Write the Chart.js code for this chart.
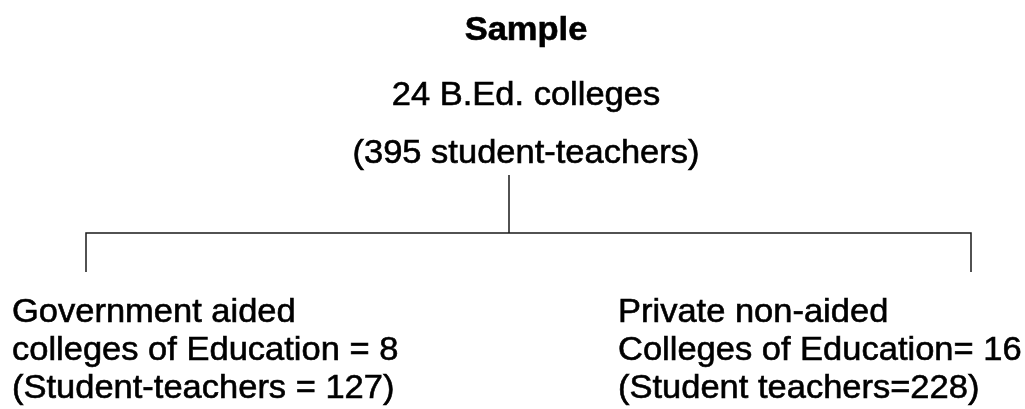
<!DOCTYPE html>
<html>
<head>
<meta charset="utf-8">
<script src="https://cdn.jsdelivr.net/npm/chart.js@4"></script>
<style>
  body { margin: 0; background: #fff; }
  #wrap { width: 1025px; height: 409px; }
</style>
</head>
<body>
<div id="wrap"><canvas id="myChart" width="1025" height="409"></canvas></div>
<script>
"use strict";
// sample data
const sampleTitle = "Sample";
const totalColleges = 24;
const totalStudents = 395;
const groupNames = ["Government aided", "Private non-aided"];
const groupColleges = [8, 16];
const groupStudents = [127, 228];
const collegeText = ["colleges of Education = ", "Colleges of Education= "];
const studentText = ["(Student-teachers = ", "(Student teachers="];

// layout of the tree (in axis units, 1 unit = 1px)
const rootX = 509;
const branchX = [86, 971];
const textX = [12, 618];
const levelY = { title: 40, line1: 105, line2: 163, trunkTop: 175, bar: 233, dropEnd: 272 };
const groupLineY = [322, 360, 398];
const stretchX = 1.045; // the scanned text is a bit wider than the font

// build the labels from the data
const Labels = [];
Labels.push({ text: sampleTitle, x: 526, y: levelY.title, bold: true, align: "center" });
Labels.push({ text: totalColleges + " B.Ed. colleges", x: 526, y: levelY.line1, bold: false, align: "center" });
Labels.push({ text: "(" + totalStudents + " student-teachers)", x: 526, y: levelY.line2, bold: false, align: "center" });
for (let i = 0; i < groupNames.length; i++) {
    let lines = [groupNames[i], collegeText[i] + groupColleges[i], studentText[i] + groupStudents[i] + ")"];
    for (let k = 0; k < lines.length; k++) {
        Labels.push({ text: lines[k], x: textX[i], y: groupLineY[k], bold: false, align: "left" });
    }
}

// connector lines
const trunk = [{ x: rootX, y: levelY.trunkTop }, { x: rootX, y: levelY.bar }];
const bar = [
    { x: branchX[0], y: levelY.dropEnd },
    { x: branchX[0], y: levelY.bar },
    { x: branchX[1], y: levelY.bar },
    { x: branchX[1], y: levelY.dropEnd }
];

const textPlugin = {
    id: "treeText",
    afterDraw(chart) {
        const ctx = chart.ctx;
        const xs = chart.scales.x;
        const ys = chart.scales.y;
        for (let i = 0; i < Labels.length; i++) {
            let L = Labels[i];
            ctx.save();
            ctx.translate(xs.getPixelForValue(L.x), ys.getPixelForValue(L.y));
            ctx.scale(stretchX, 1);
            ctx.fillStyle = "#000";
            ctx.strokeStyle = "#000";
            ctx.lineWidth = 0.6;
            ctx.textBaseline = "alphabetic";
            ctx.font = (L.bold ? "bold " : "") + "33px 'Liberation Sans', Arial, sans-serif";
            ctx.textAlign = L.align;
            ctx.fillText(L.text, 0, 0);
            ctx.strokeText(L.text, 0, 0);
            ctx.restore();
        }
    }
};

const lineStyle = {
    showLine: true,
    borderColor: "#1a1a1a",
    borderWidth: 1.5,
    pointRadius: 0,
    fill: false,
    tension: 0
};

new Chart(document.getElementById("myChart"), {
    type: "scatter",
    data: {
        datasets: [
            Object.assign({ label: "trunk", data: trunk }, lineStyle),
            Object.assign({ label: "branches", data: bar }, lineStyle)
        ]
    },
    options: {
        responsive: false,
        animation: false,
        layout: { padding: 0 },
        plugins: { legend: { display: false }, tooltip: { enabled: false } },
        scales: {
            x: { type: "linear", min: 0, max: 1025, display: false },
            y: { type: "linear", min: 0, max: 409, reverse: true, display: false }
        }
    },
    plugins: [textPlugin]
});
</script>
</body>
</html>
